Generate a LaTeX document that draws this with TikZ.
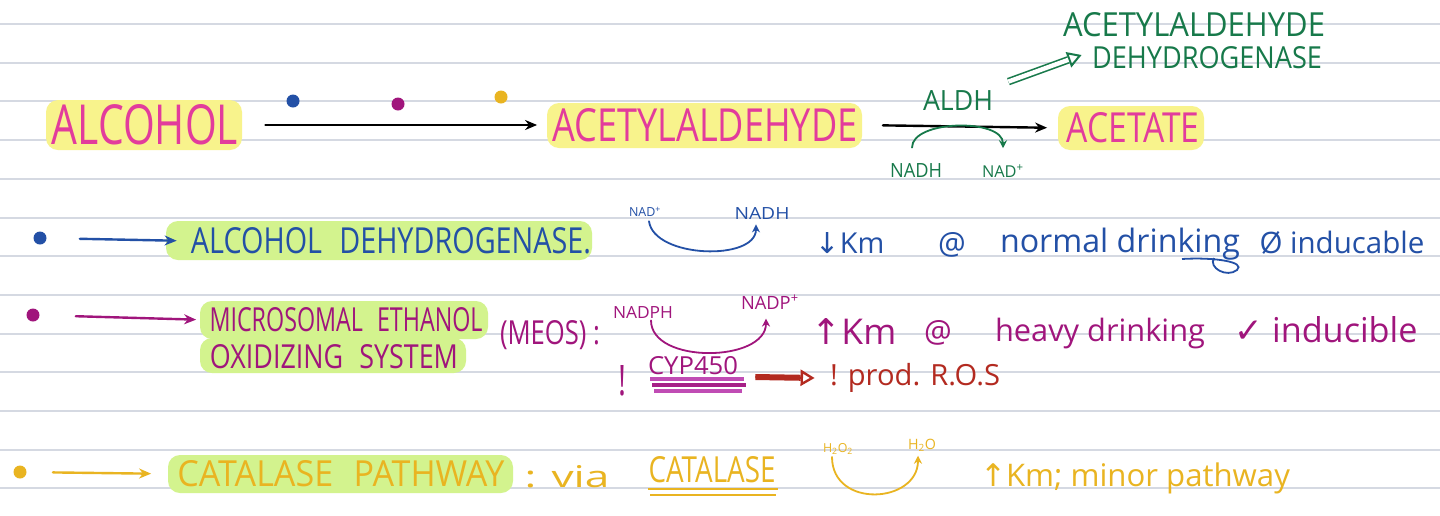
\documentclass[tikz,border=0pt]{standalone}
\usepackage{fontspec}
\setmainfont{Open Sans}
\newfontfamily\symf{DejaVu Sans}
\usepackage{graphicx}
\usetikzlibrary{arrows.meta}
\newdimen\upx \upx=0.5pt
\newcommand\tb[3]{\resizebox{#1\upx}{#2\upx}{#3}}
\newcommand\tw[2]{\resizebox{#1\upx}{!}{#2}}
\newcommand\tht[2]{\resizebox{!}{#1\upx}{#2}}
\definecolor{pinkT}{HTML}{E23C9C}
\definecolor{hlY}{HTML}{F8F38C}
\definecolor{hlG}{HTML}{D3F38E}
\definecolor{greenT}{HTML}{17794A}
\definecolor{blueT}{HTML}{2350A6}
\definecolor{magT}{HTML}{A0157C}
\definecolor{yelT}{HTML}{E9B421}
\definecolor{redT}{HTML}{B32A20}
\definecolor{ruleC}{HTML}{D5D9E2}
\definecolor{purU}{HTML}{C04CB4}
\begin{document}
\begin{tikzpicture}[x=0.5pt,y=-0.5pt,
  tx/.style={inner sep=0pt, text=#1},
  dotn/.style={circle, fill=#1, inner sep=0pt, minimum size=6.5pt},
  pen/.style={draw=#1, line width=1.2pt, line cap=round, -{Stealth[length=6pt,width=5pt]}},
  arcpen/.style={draw=#1, line width=0.9pt, line cap=round, -{Stealth[length=4pt,width=4pt]}},
  rule/.style={draw=ruleC, line width=1pt},
  hl/.style={fill=#1, rounded corners=6pt}]
\fill[white] (0,0) rectangle (1440,515);
\useasboundingbox (0,0) rectangle (1440,515);
\foreach \k in {0,...,12} \draw[rule] (0,{24+38.7*\k}) -- (1440,{24+38.7*\k});

% highlights
\fill[hl=hlY] (46,100) rectangle (242,150);
\fill[hl=hlY] (547,103) rectangle (862,148);
\fill[hl=hlY] (1058,106) rectangle (1204,150);
\fill[hl=hlG] (166,221) rectangle (592,260);
\fill[hl=hlG] (200,301) rectangle (488,339);
\fill[hl=hlG] (200,338) rectangle (466,373);
\fill[hl=hlG] (168,455) rectangle (513,493);

% top row
\node[tx=pinkT] (alc) at (145,125) {\tb{186}{40}{ALCOHOL}};
\node[tx=pinkT] (acet) at (705,125) {\tb{305}{33}{ACETYLALDEHYDE}};
\node[tx=pinkT] (acetate) at (1133,128) {\tb{133}{30}{ACETATE}};
\node[dotn=blueT] (db) at (293,101) {};
\node[dotn=magT] (dm) at (398,104) {};
\node[dotn=yelT] (dy) at (501,97) {};
\draw[pen=black, shorten <=13.5pt, shorten >=7.5pt] (alc.east) -- (acet.west);
\draw[pen=black, shorten <=12.5pt, shorten >=9.5pt] (acet.east) -- (acetate.west);
\node[tx=greenT] (aldh) at (958,100) {\tb{70}{20}{ALDH}};
\node[tx=greenT] (nadhG) at (916,170) {\tb{52}{14}{NADH}};
\node[tx=greenT] (nadG) at (1003,171) {\tw{42}{NAD\textsuperscript{+}}};
\draw[arcpen=greenT] ([xshift=-2pt,yshift=7.5pt]nadhG.north) .. controls +(0,-28) and +(0,-30) .. ([yshift=8pt]nadG.north);
\node[tx=greenT] (ald2) at (1194,25) {\tb{262}{24}{ACETYLALDEHYDE}};
\node[tx=greenT] (dehyd) at (1207,58) {\tb{230}{22}{DEHYDROGENASE}};
\draw[greenT, line width=1pt, -{Triangle[open,length=7pt,width=8pt]}] ([xshift=7.5pt,yshift=4pt]aldh.north east) -- ([xshift=-5pt,yshift=1.5pt]dehyd.west);
\draw[greenT, line width=0.8pt, double=white, double distance=2.2pt, shorten >=7pt] ([xshift=7.5pt,yshift=4pt]aldh.north east) -- ([xshift=-5pt,yshift=1.5pt]dehyd.west);

% row 2 (blue)
\node[dotn=blueT] (d1) at (40,238) {};
\node[tx=blueT] (adh) at (391,241) {\tb{400}{26}{ALCOHOL\hspace{0.6em}DEHYDROGENASE.}};
\draw[pen=blueT, shorten <=16.5pt, shorten >=7pt] (d1) -- (adh.west);
\node[tx=blueT] (nadB) at (645,212) {\tw{32}{NAD\textsuperscript{+}}};
\node[tx=blueT] (nadhB) at (762,213) {\tb{55}{12}{NADH}};
\draw[arcpen=blueT] ([xshift=2pt,yshift=-2pt]nadB.south) .. controls +(5,37) and +(0,37) .. ([xshift=-3pt,yshift=-2.5pt]nadhB.south);
\node[tx=blueT] (kmB) at (850,243) {\tht{21}{{\symf ↓}Km}};
\node[tx=blueT] (atB) at (952,245) {\tht{22}{@}};
\node[tx=blueT] (normal) at (1120,244) {\tw{240}{normal drinking}};
\draw[blueT, line width=0.9pt] (1182,259) .. controls (1215,257) and (1246,262) .. (1237,270) .. controls (1227,278) and (1208,268) .. (1214,258);
\node[tx=blueT] (indB) at (1342,243) {\tw{165}{Ø inducable}};

% row 3 (magenta)
\node[dotn=magT] (d2) at (33,315) {};
\node[tx=magT] (meos1) at (346,320) {\tb{273}{24}{MICROSOMAL\hspace{0.6em}ETHANOL}};
\node[tx=magT] (meos2) at (334,357) {\tb{248}{24}{OXIDIZING\hspace{0.6em}SYSTEM}};
\draw[pen=magT, shorten <=18pt, shorten >=6.5pt] (d2) -- (meos1.west);
\node[tx=magT] (meos) at (550,335) {\tb{100}{24}{(MEOS) :}};
\node[tx=magT] (nadph) at (643,312) {\tb{60}{12}{NADPH}};
\node[tx=magT] (nadp) at (770,302) {\tw{58}{NADP\textsuperscript{+}}};
\draw[arcpen=magT] ([xshift=4pt,yshift=-1pt]nadph.south) .. controls +(0,44) and +(0,44) .. ([xshift=-2pt,yshift=-4.5pt]nadp.south);
\node[tx=magT] (kmM) at (854,331) {\tht{26}{{\symf ↑}Km}};
\node[tx=magT] (atM) at (938,333) {\tht{22}{@}};
\node[tx=magT] (heavy) at (1100,333) {\tw{210}{heavy drinking}};
\node[tx=magT] (indM) at (1326,330) {\tht{26}{{\symf ✓} inducible}};
\node[tx=magT] (excl) at (622,381) {\tb{8}{30}{!}};
\node[tx=magT] (cyp) at (693,366) {\tb{90}{18}{CYP450}};
\draw[purU, line width=1.6pt] (650,379) -- (744,379);
\draw[magT!80!purU, line width=1.6pt] (652,385) -- (746,385);
\draw[purU, line width=1.6pt] (654,391) -- (742,391);
\node[tx=redT] (ros) at (915,378) {\tw{170}{! prod. R.O.S}};
\draw[redT, line width=1.2pt, -{Triangle[open,length=7pt,width=8pt]}] ([xshift=8.5pt,yshift=-5.5pt]cyp.east) -- ([xshift=-7.5pt]ros.west);
\draw[redT, line width=3pt, shorten >=7pt] ([xshift=8.5pt,yshift=-5.5pt]cyp.east) -- ([xshift=-7.5pt]ros.west);

% row 4 (yellow)
\node[dotn=yelT] (d3) at (20,472) {};
\node[tx=yelT] (catp) at (341,474) {\tb{327}{26}{CATALASE\hspace{0.6em}PATHWAY}};
\draw[pen=yelT, shorten <=13pt, shorten >=13pt] (d3) -- (catp.west);
\node[tx=yelT] (via) at (567,477) {\tb{85}{22}{: via}};
\node[tx=yelT] (cat) at (712,470) {\tb{127}{26}{CATALASE}};
\draw[yelT, line width=1.2pt] (648,489) -- (778,489);
\draw[yelT, line width=1.2pt] (650,495) -- (776,495);
\node[tx=yelT] (h2o2) at (838,449) {\tw{30}{H\textsubscript{2}O\textsubscript{2}}};
\node[tx=yelT] (h2o) at (922,445) {\tw{28}{H\textsubscript{2}O}};
\draw[arcpen=yelT] ([xshift=-3pt,yshift=-1pt]h2o2.south) .. controls +(0,52) and +(0,48) .. ([xshift=-2pt,yshift=-2pt]h2o.south);
\node[tx=yelT] (minor) at (1135,478) {\tw{310}{{\symf ↑}Km; minor pathway}};
\end{tikzpicture}
\end{document}
